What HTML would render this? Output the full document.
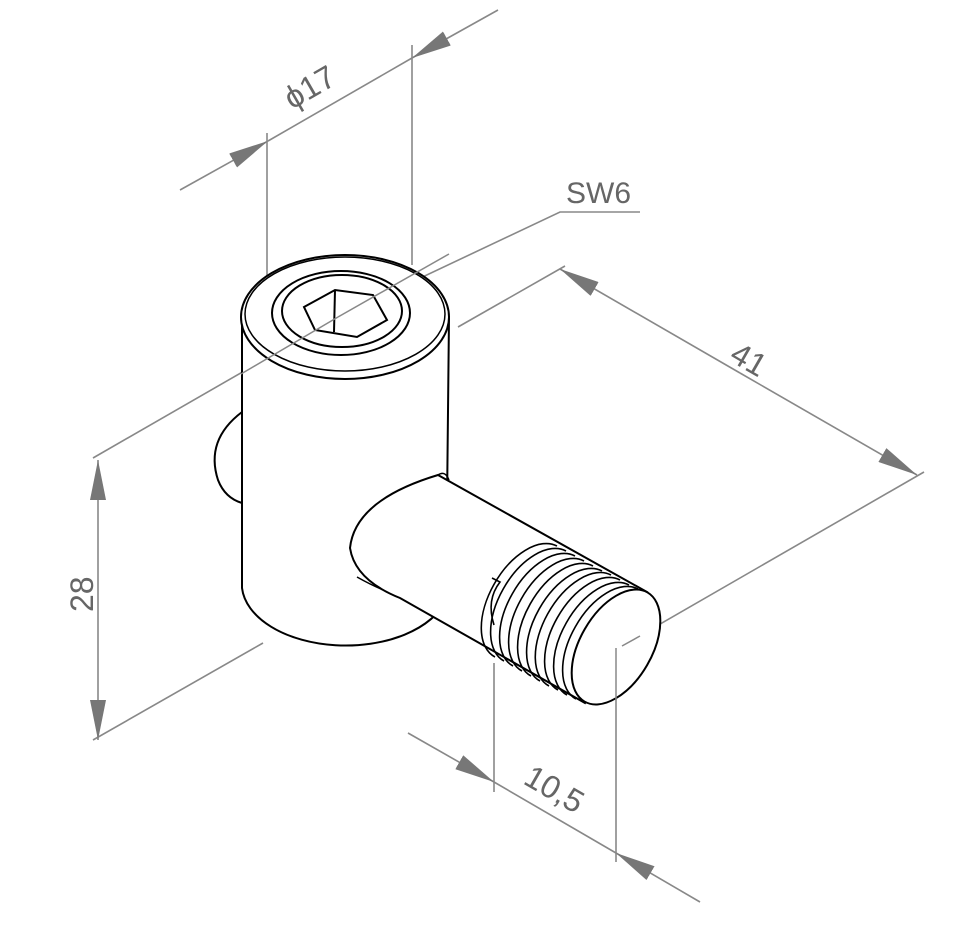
<!DOCTYPE html>
<html><head><meta charset="utf-8"><style>html,body{margin:0;padding:0;background:#fff}svg{display:block}</style></head>
<body>
<svg width="960" height="926" viewBox="0 0 960 926" xmlns="http://www.w3.org/2000/svg">
<defs>
<marker id="ar" viewBox="0 0 40 16" refX="40" refY="8" markerWidth="40" markerHeight="16" markerUnits="userSpaceOnUse" orient="auto"><path d="M0,0 L40,8 L0,16 Z" fill="#777"/></marker>
</defs>
<g stroke="#888" stroke-width="1.6" fill="none">
<line x1="180" y1="190" x2="268" y2="141" marker-end="url(#ar)"/>
<line x1="498" y1="10" x2="412" y2="58" marker-end="url(#ar)"/>
<line x1="268" y1="141" x2="412" y2="58"/>
<line x1="267" y1="133" x2="267" y2="300"/>
<line x1="412" y1="45" x2="412" y2="265"/>
<polyline points="338,317 560,212 640,212"/>
<line x1="458" y1="327" x2="565" y2="266"/>
<line x1="740" y1="373" x2="560" y2="269" marker-end="url(#ar)"/>
<line x1="740" y1="373" x2="917" y2="475" marker-end="url(#ar)"/>
<line x1="924" y1="472" x2="622" y2="646"/>
<line x1="93" y1="458" x2="338" y2="317"/>
<line x1="93" y1="740" x2="263" y2="643"/>
<line x1="98" y1="600" x2="98" y2="460" marker-end="url(#ar)"/>
<line x1="98" y1="600" x2="98" y2="740" marker-end="url(#ar)"/>
<line x1="494" y1="663" x2="494" y2="792"/>
<line x1="616" y1="648" x2="616" y2="862"/>
<line x1="408" y1="733" x2="494" y2="782" marker-end="url(#ar)"/>
<line x1="700" y1="902" x2="616" y2="853" marker-end="url(#ar)"/>
<line x1="494" y1="782" x2="616" y2="853"/>
</g>
<g fill="#666" font-family="Liberation Sans, sans-serif" font-size="32">
<text transform="translate(292,110) rotate(-30)">ϕ17</text>
<text x="566" y="203" font-size="30">SW6</text>
<text transform="translate(728,360) rotate(30)">41</text>
<text transform="translate(93,612) rotate(-90)">28</text>
<text transform="translate(522,783) rotate(30)">10,5</text>
</g>
<g stroke="#000" stroke-width="2" fill="#fff">
<path d="M242,412 Q205,440 218,480 Q225,498 242,503"/>
<path d="M242,317 L242,588 A104,62 0 0 0 446,600 L449,317 Z"/>
<ellipse cx="345" cy="317" rx="104" ry="62"/>
<ellipse cx="345" cy="314" rx="100" ry="57" fill="none" stroke-width="1.5"/>
<ellipse cx="341" cy="313" rx="69" ry="42"/>
<ellipse cx="342" cy="311" rx="60" ry="36"/>
<polygon points="304,307 335,290 373,295 387,320 357,337 315,330" fill="#fff"/>
<line x1="335" y1="290" x2="334" y2="332"/>
<path d="M357,577 Q380,590 400,596" fill="none" stroke-width="1.5"/>
<path d="M438,475 L647,592 L585,703 L400,598 Q355,580 350,548 Q355,500 438,475 Z"/>
<path d="M438,475 Q445,470 449,480" fill="none" stroke-width="1.5"/>
</g>
<g stroke="#888" stroke-width="1.5" fill="none">
<line x1="241" y1="374" x2="338" y2="317"/>
<line x1="338" y1="317" x2="449" y2="254"/>
</g>
<g stroke="#000" stroke-width="1.6" fill="none">
<path d="M557,546 A63,36 120 0 0 495,657"/>
<path d="M566,551 A63,36 120 0 0 504,661"/>
<path d="M575,556 A63,36 120 0 0 513,666"/>
<path d="M584,561 A63,36 120 0 0 522,671"/>
<path d="M593,566 A63,36 120 0 0 531,676"/>
<path d="M602,571 A63,36 120 0 0 540,681"/>
<path d="M611,575 A63,36 120 0 0 549,686"/>
<path d="M620,580 A63,36 120 0 0 558,690"/>
<path d="M629,585 A63,36 120 0 0 567,695"/>
<path d="M638,589 A63,36 120 0 0 576,699"/>
<path d="M492,578 L500,582 Q486,600 494,625"/>
</g>
<ellipse cx="616" cy="647" rx="63" ry="36" transform="rotate(120 616 647)" fill="#fff" stroke="#000" stroke-width="2"/>
<line x1="622" y1="646" x2="640" y2="636" stroke="#888" stroke-width="1.5"/>
<line x1="616" y1="648" x2="616" y2="700" stroke="#888" stroke-width="1.5"/>
</svg>
</body></html>
